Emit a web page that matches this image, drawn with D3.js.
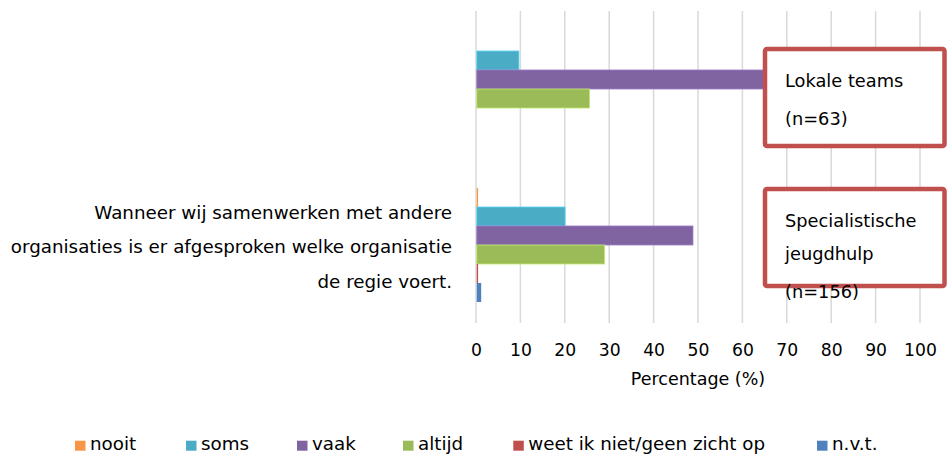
<!DOCTYPE html>
<html><head><meta charset="utf-8">
<script src="https://cdn.jsdelivr.net/npm/d3@7"></script>
<style>
html,body{margin:0;padding:0;background:#fff;}
svg{display:block;font-family:"DejaVu Sans",sans-serif;}
</style></head>
<body><svg id="chart" width="951" height="455"></svg>
<script>
// ---- data ----
const groups = ["Lokale teams", "Specialistische jeugdhulp"];
const categoryLabels = [[], ["Wanneer wij samenwerken met andere", "organisaties is er afgesproken welke organisatie", "de regie voert."]];
const seriesNames = ["nooit", "soms", "vaak", "altijd", "weet ik niet/geen zicht op", "n.v.t."];
const seriesColors = ["#F79646", "#4BACC6", "#8064A2", "#9BBB59", "#C0504D", "#4F81BD"];
const nooit  = [0, 0.3];
const soms   = [9.5, 19.9];
const vaak   = [65.1, 48.7];
const altijd = [25.4, 28.8];
const weet   = [0, 0.3];
const nvt    = [0, 1.0];
const seriesValues = [nooit, soms, vaak, altijd, weet, nvt];
const xTicks = [0, 10, 20, 30, 40, 50, 60, 70, 80, 90, 100];
const boxTexts = [["Lokale teams", "(n=63)"], ["Specialistische", "jeugdhulp", "(n=156)"]];

// ---- layout ----
const svg = d3.select("#chart");
const pLeft = 476, pRight = 920, pTop = 11, pBottom = 323;
const x = d3.scaleLinear().domain([0, 100]).range([pLeft, pRight]);
const y = d3.scaleBand().domain(groups).range([pTop, pBottom]).paddingInner(0.269).paddingOuter(0.1345);
const ys = d3.scaleBand().domain(seriesNames).range([0, y.bandwidth()]);

// gridlines
svg.append("g").selectAll("line").data(xTicks).join("line")
  .attr("x1", d => x(d)).attr("x2", d => x(d))
  .attr("y1", pTop).attr("y2", pBottom)
  .attr("stroke", "#d9d9d9").attr("stroke-width", 1.5);

// bars
groups.forEach((g, gi) => {
  seriesNames.forEach((s, si) => {
    const v = seriesValues[si][gi];
    if (v <= 0) return;
    svg.append("rect")
      .attr("x", x(0) + 0.75)
      .attr("y", y(g) + ys(s))
      .attr("width", Math.max(0.8, x(v) - x(0)))
      .attr("height", ys.bandwidth())
      .attr("fill", seriesColors[si])
      .attr("stroke", d3.color(seriesColors[si]).brighter(0.6))
      .attr("stroke-width", v > 2 ? 0.8 : 0);
  });
});

// x axis tick labels
const axis = d3.axisBottom(x).tickValues(xTicks).tickSize(0).tickPadding(0);
const ag = svg.append("g").attr("transform", `translate(0,${pBottom})`).call(axis);
ag.select(".domain").remove();
ag.selectAll("text").attr("font-family", "DejaVu Sans").attr("font-size", 17.2)
  .attr("fill", "#000").attr("dy", null).attr("y", 33);

svg.append("text").attr("x", (pLeft + pRight) / 2).attr("y", 385)
  .attr("text-anchor", "middle").attr("font-size", 17.5).attr("fill", "#000")
  .text("Percentage (%)");

// category labels
groups.forEach((g, gi) => {
  const lines = categoryLabels[gi];
  const cy = y(g) + y.bandwidth() / 2;
  lines.forEach((t, li) => {
    svg.append("text").attr("x", 452)
      .attr("y", cy + (li - (lines.length - 1) / 2) * 34.5 + 8)
      .attr("text-anchor", "end").attr("font-size", 18.3).attr("fill", "#000")
      .text(t);
  });
});

// legend
const legendX = [75, 186, 297, 403, 513.3, 817];
const lg = svg.append("g");
seriesNames.forEach((s, i) => {
  lg.append("rect").attr("x", legendX[i]).attr("y", 440.7).attr("width", 10.5).attr("height", 10)
    .attr("fill", seriesColors[i]);
  lg.append("text").attr("x", legendX[i] + 15).attr("y", 450)
    .attr("font-size", 18.3).attr("fill", "#000").text(s);
});

// annotation boxes
const boxes = [{x: 765, y: 49, w: 179.5, h: 97}, {x: 765, y: 189, w: 179.5, h: 97}];
const boxBaselines = [[87, 125], [226.7, 260, 298]];
boxes.forEach((b, i) => {
  svg.append("rect").attr("x", b.x).attr("y", b.y).attr("width", b.w).attr("height", b.h)
    .attr("rx", 2).attr("fill", "#fff").attr("stroke", "#C0504D").attr("stroke-width", 4.5);
  boxTexts[i].forEach((t, li) => {
    svg.append("text").attr("x", 785).attr("y", boxBaselines[i][li])
      .attr("font-size", 17.8).attr("fill", "#000").text(t);
  });
});
</script></body></html>
